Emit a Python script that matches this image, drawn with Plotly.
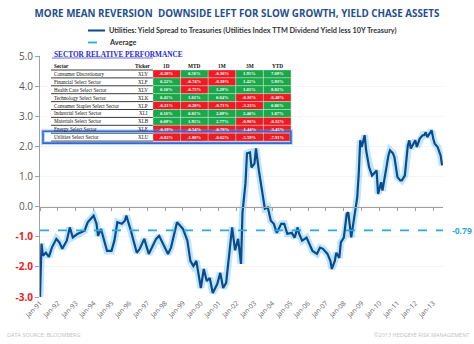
import plotly.graph_objects as go

# ---------------- data ----------------
dates = ["1991-01","1991-02","1991-03","1991-05","1991-07","1991-09","1991-12",
         "1992-02","1992-04","1992-07","1992-09","1992-11",
         "1993-02","1993-04","1993-07","1993-09",
         "1994-01","1994-03","1994-04","1994-06","1994-08","1994-10",
         "1995-01","1995-03","1995-05","1995-08","1995-10","1995-11",
         "1996-02","1996-06","1996-08","1996-11",
         "1997-02","1997-05","1997-07","1997-09",
         "1998-01","1998-03","1998-05","1998-09","1998-11",
         "1999-01","1999-04","1999-06","1999-08","1999-10",
         "2000-01","2000-03","2000-05","2000-07","2000-09","2000-12",
         "2001-02","2001-04","2001-06","2001-08","2001-10","2001-12",
         "2002-02","2002-04","2002-05","2002-07","2002-08","2002-10","2002-11",
         "2003-01","2003-02","2003-04","2003-06","2003-08","2003-10","2003-12",
         "2004-02","2004-04","2004-07","2004-09","2004-11",
         "2005-02","2005-04","2005-06","2005-07","2005-09","2005-12",
         "2006-02","2006-04","2006-07","2006-09","2006-11",
         "2007-02","2007-04","2007-05","2007-07","2007-08","2007-10","2007-11",
         "2008-01","2008-03","2008-04","2008-06","2008-07","2008-10","2008-11","2008-12",
         "2009-01","2009-03","2009-04","2009-06","2009-08","2009-11","2009-12",
         "2010-02","2010-03","2010-06","2010-07","2010-08","2010-10","2010-11",
         "2011-01","2011-03","2011-04","2011-06","2011-08","2011-09","2011-10",
         "2012-01","2012-02","2012-04","2012-06","2012-07","2012-08","2012-09","2012-12",
         "2013-01","2013-02","2013-04","2013-06","2013-07"]
spread = [-3.00,-1.23,-1.63,-1.53,-1.67,-1.36,-1.07,
          -1.19,-1.40,-1.13,-0.69,-1.02,
          -0.91,-0.86,-0.80,-0.52,
          -0.30,-0.57,-0.97,-0.74,-1.07,-1.47,
          -1.47,-1.13,-0.52,-0.57,-0.47,-0.30,
          -0.80,-1.53,-1.40,-1.07,
          -1.57,-1.30,-1.07,-0.97,
          -1.40,-1.57,-1.36,-0.52,-0.63,
          -0.74,-1.13,-1.80,-1.97,-1.80,
          -2.70,-2.07,-2.47,-2.37,-2.87,-2.57,
          -2.20,-2.70,-2.53,-1.70,-0.69,-1.45,
          -1.07,-1.90,-0.20,0.77,1.77,1.80,1.30,
          1.43,1.93,1.20,0.53,-0.07,-0.03,-0.47,
          -0.57,-0.87,-0.57,-0.57,-0.90,
          -0.87,-1.03,-0.69,-0.90,-1.13,-1.03,
          -1.24,-1.47,-1.57,-1.36,-1.40,
          -1.57,-1.80,-2.07,-1.80,-1.53,-1.70,-1.19,
          -1.03,-0.24,-0.19,-1.02,-0.69,0.31,1.09,2.20,
          1.98,2.37,1.87,1.31,1.03,1.20,0.42,
          0.81,0.53,1.53,1.70,1.87,1.77,1.64,
          0.98,0.87,0.87,1.03,2.03,2.20,1.93,
          2.20,1.98,2.26,2.37,2.37,2.47,2.31,2.53,
          2.26,2.09,1.98,1.70,1.37]
avg_value = -0.79
avg_dates = ["1991-01-01", "2013-07-20"]

year_ticks = [f"{y}-01-01" for y in range(1991, 2014)]
year_labels = [f"Jan-{str(y)[2:]}" for y in range(1991, 2014)]
y_ticks = [5, 4, 3, 2, 1, 0, -1, -2, -3]

# sector table
sectors = ["Consumer Discretionary", "Financial Select Sector", "Health Care Select Sector",
           "Technology Select Sector", "Consumer Staples Select Sector", "Industrial Select Sector",
           "Materials Select Sector", "Energy Select Sector", "Utilities Select Sector"]
tickers = ["XLY", "XLF", "XLV", "XLK", "XLP", "XLI", "XLB", "XLE", "XLU"]
perf_1d  = [-0.28, 0.22, 0.10, 0.41, -0.21, 0.16, 0.09, -0.19, -0.82]
perf_mtd = [0.56, -0.74, -0.75, 1.61, -0.20, 0.81, 1.95, -0.54, -1.88]
perf_1m  = [-0.36, -0.39, 1.29, 0.64, -0.71, 2.09, 2.77, -0.76, -0.62]
perf_3m  = [1.95, 1.42, 1.05, -0.16, -3.23, 2.40, -0.96, -1.44, -5.59]
perf_ytd = [7.69, 5.93, 8.82, -6.48, 0.86, 1.87, -0.32, -3.45, -7.91]
table_headers = ["Sector", "Ticker", "1D", "MTD", "1M", "3M", "YTD"]

# ---------------- helpers (pixel -> paper) ----------------
PL, PR, PT, PB = 40, 443, 56, 297
def px_x(x): return (x - PL) / (PR - PL)
def px_y(y): return (PB - y) / (PB - PT)

DARK = "#0d4a8c"
LIGHT = "#29a9e1"
GREEN = "#1ba84b"
RED = "#ec1c24"

fig = go.Figure()

# glow
fig.add_trace(go.Scatter(x=dates, y=spread, mode="lines",
                         line=dict(color="rgba(110,200,245,0.45)", width=7),
                         showlegend=False, hoverinfo="skip"))
fig.add_trace(go.Scatter(x=dates, y=spread, mode="lines",
                         line=dict(color=DARK, width=2.2), showlegend=False,
                         name="Utilities: Yield Spread to Treasuries"))
fig.add_trace(go.Scatter(x=avg_dates, y=[avg_value, avg_value], mode="lines", xaxis="x2",
                         line=dict(color=LIGHT, width=1.8, dash="dash"),
                         showlegend=False, name="Average"))

shapes = []
annotations = []

# ---------------- table (drawn from the table arrays) ----------------
TBL_L, TICK_R = 50, 153          # left edge / right edge of ticker column
COL_W = 27.6                     # width of each performance column
ROW_TOP, ROW_H = 70, 7.9
HEAD_Y = 65.5
perf_cols = [perf_1d, perf_mtd, perf_1m, perf_3m, perf_ytd]
TBL_R = TICK_R + COL_W * len(perf_cols)

# white backdrop
shapes.append(dict(type="rect", xref="paper", yref="paper", layer="above",
                   x0=px_x(TBL_L - 2), x1=px_x(TBL_R), y0=px_y(ROW_TOP + ROW_H * len(sectors)),
                   y1=px_y(61), fillcolor="white", line=dict(width=0)))

def tbl_text(txt, x, y, anchor, size, color, family="Liberation Serif"):
    annotations.append(dict(text=txt, xref="paper", yref="paper", x=px_x(x), y=px_y(y),
                            xanchor=anchor, yanchor="middle", showarrow=False,
                            font=dict(family=family, size=size, color=color)))

# header
head_x = [TBL_L + 2, 143] + [TICK_R + COL_W * (k + 0.5) for k in range(len(perf_cols))]
for j, h in enumerate(table_headers):
    tbl_text(f"<b>{h}</b>", head_x[j], HEAD_Y, "left" if j == 0 else "center", 5.3, "#111")

for i in range(len(sectors)):
    top = ROW_TOP + ROW_H * i
    mid = top + ROW_H / 2
    tbl_text(sectors[i], TBL_L + 2, mid, "left", 5.1, "#111")
    tbl_text(tickers[i], 143, mid, "center", 5.1, "#111")
    shapes.append(dict(type="line", xref="paper", yref="paper", layer="above",
                       x0=px_x(TBL_L + 1), x1=px_x(TICK_R), y0=px_y(top + ROW_H), y1=px_y(top + ROW_H),
                       line=dict(color="#222", width=0.9)))
    for k, colvals in enumerate(perf_cols):
        v = colvals[i]
        x0 = TICK_R + COL_W * k
        shapes.append(dict(type="rect", xref="paper", yref="paper", layer="above",
                           x0=px_x(x0), x1=px_x(x0 + COL_W), y0=px_y(top + ROW_H), y1=px_y(top),
                           fillcolor=GREEN if v >= 0 else RED,
                           line=dict(color="rgba(255,255,255,0.6)", width=0.5)))
        tbl_text(f"<b>{v:.2f}%</b>", x0 + COL_W / 2, mid, "center", 4.6, "white")
# top line under header
shapes.append(dict(type="line", xref="paper", yref="paper", layer="above",
                   x0=px_x(TBL_L + 1), x1=px_x(TICK_R), y0=px_y(ROW_TOP), y1=px_y(ROW_TOP),
                   line=dict(color="#222", width=0.9)))

# utilities highlight (last row)
hl_top = ROW_TOP + ROW_H * (len(sectors) - 1) - 2
hl_bot = ROW_TOP + ROW_H * len(sectors) + 2
for lc, lw in [("rgba(100,170,240,0.45)", 4), ("#3a64d0", 1.6)]:
    shapes.append(dict(type="rect", xref="paper", yref="paper", layer="above",
                       x0=px_x(43), x1=px_x(TBL_R), y0=px_y(hl_bot), y1=px_y(hl_top),
                       line=dict(color=lc, width=lw)))

annotations.append(dict(text="<b>SECTOR RELATIVE PERFORMANCE</b>",
                        xref="paper", yref="paper", x=px_x(52), y=px_y(54), xanchor="left",
                        yanchor="middle", showarrow=False,
                        font=dict(family="Liberation Serif", size=7.3, color="#2a2ad0")))
shapes.append(dict(type="line", xref="paper", yref="paper", layer="above",
                   x0=px_x(52), x1=px_x(153), y0=px_y(58), y1=px_y(58),
                   line=dict(color="#2a2ad0", width=0.7)))

# ---------------- legend (manual) ----------------
shapes += [
    dict(type="line", xref="paper", yref="paper", x0=px_x(88), x1=px_x(105),
         y0=px_y(30.5), y1=px_y(30.5), line=dict(color=DARK, width=2)),
    dict(type="line", xref="paper", yref="paper", x0=px_x(88), x1=px_x(105),
         y0=px_y(42.5), y1=px_y(42.5), line=dict(color=LIGHT, width=1.8, dash="dash")),
]
annotations += [
    dict(text="<b>Utilities: Yield Spread to Treasuries (Utilities Index TTM Dividend Yield less 10Y Treasury)</b>",
         xref="paper", yref="paper", x=px_x(107), y=px_y(30.5), xanchor="left", yanchor="middle",
         showarrow=False, font=dict(family="Lato", size=7.3, color="#333")),
    dict(text="<b>Average</b>",
         xref="paper", yref="paper", x=px_x(107), y=px_y(42.5), xanchor="left", yanchor="middle",
         showarrow=False, font=dict(family="Lato", size=7.3, color="#333")),
    dict(text=f"<b>{avg_value:.2f}</b>", xref="paper", yref="y", x=1, y=avg_value,
         xanchor="left", yanchor="middle", xshift=7, showarrow=False,
         font=dict(family="Open Sans", size=8.5, color=LIGHT)),
    dict(text="DATA SOURCE: BLOOMBERG", xref="paper", yref="paper",
         x=px_x(5), y=px_y(335), xanchor="left", yanchor="middle", showarrow=False,
         font=dict(family="Open Sans", size=5.5, color="#c0c0c0")),
    dict(text="©2013 HEDGEYE RISK MANAGEMENT", xref="paper", yref="paper",
         x=px_x(471), y=px_y(335), xanchor="right", yanchor="middle", showarrow=False,
         font=dict(family="Open Sans", size=5.5, color="#c0c0c0")),
]

def ylab(v):
    if v < 0:
        return f"<b><span style='color:{RED}'>{v:.1f}</span></b>"
    return f"{v:.1f}"

x_range = ["1991-01-01", "2013-07-20"]
fig.update_layout(
    width=474, height=344,
    margin=dict(l=PL, r=474 - PR, t=PT, b=344 - PB),
    paper_bgcolor="white", plot_bgcolor="white",
    title=dict(text="<b>MORE MEAN REVERSION  DOWNSIDE LEFT FOR SLOW GROWTH, YIELD CHASE ASSETS</b>",
               x=0.5, xanchor="center", y=1 - 14 / 344, yanchor="middle",
               font=dict(family="Open Sans", size=9.8, color="#1f4f8f")),
    xaxis=dict(type="date", range=x_range, tickvals=year_ticks, ticktext=year_labels,
               tickangle=-45, showline=False, ticks="", showgrid=False, zeroline=False,
               tickfont=dict(family="Open Sans", size=6.8, color="#666")),
    xaxis2=dict(type="date", range=x_range, overlaying="x", anchor="free", position=3 / 8,
                tickvals=year_ticks, showticklabels=False, showline=True, linecolor="#a0a0a0",
                linewidth=1, ticks="outside", ticklen=3, tickcolor="#a0a0a0",
                showgrid=False, zeroline=False),
    yaxis=dict(range=[-3, 5], tickvals=y_ticks, ticktext=[ylab(v) for v in y_ticks],
               showline=True, linecolor="#a0a0a0", linewidth=1, ticks="outside", ticklen=4,
               tickcolor="#a0a0a0", showgrid=True, gridcolor="#f4f4f4", zeroline=False,
               tickfont=dict(family="Open Sans", size=10, color="#555")),
    shapes=shapes,
    annotations=annotations,
    showlegend=False,
)

fig.write_html("out.html")
